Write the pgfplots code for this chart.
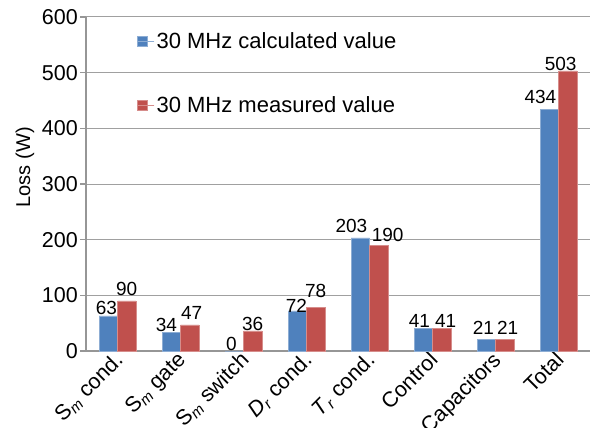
\documentclass[border=0pt]{standalone}
\usepackage{pgfplots}
\pgfplotsset{compat=1.18}
\usepackage{fontspec}
\setmainfont{Liberation Sans}
\definecolor{cblue}{RGB}{79,129,189}
\definecolor{cred}{RGB}{192,80,77}
\definecolor{axgray}{RGB}{150,150,150}
\definecolor{grgray}{RGB}{160,160,160}
\pgfplotstableread{
x y dx dy
0 63 -2 0
1 34 -5 0
2 0 -3 0
3 72 -1 -2
4 203 -9 5
5 41 -4 0
6 21 -3 4
7 434 -9 5
}\calc
\pgfplotstableread{
x y dx dy
0 90 0 4
1 47 2 5
2 36 0 0
3 78 0 9
4 190 9 3
5 41 4 0
6 21 3 4
7 503 -7 0
}\meas
\begin{document}
\begin{tikzpicture}
\begin{axis}[
  name=ax,
  scale only axis,
  width=504pt, height=334pt,
  xmin=-0.5, xmax=7.5,
  ymin=0, ymax=600,
  ytick={0,100,...,600},
  axis lines*=left,
  axis line style={axgray, line width=1.3pt},
  ymajorgrids,
  grid style={grgray, line width=1pt},
  y tick style={axgray, line width=1.3pt},
  tick align=outside,
  major tick length=6pt,
  xtick={0,...,7},
  xticklabels={S\textsubscript{\textit{m}} cond., S\textsubscript{\textit{m}} gate, S\textsubscript{\textit{m}} switch, \textit{D}\textsubscript{\textit{r}} cond., \textit{T}\textsubscript{\textit{r}} cond., Control, Capacitors, Total},
  x tick style={draw=none},
  extra x ticks={-0.5,0.5,...,7.5},
  extra x tick labels={},
  extra x tick style={grid=none, tick style={draw=axgray, line width=1.3pt}},
  x tick label style={rotate=45, anchor=north east, inner sep=0pt, xshift=1.6pt, yshift=8pt, font=\fontsize{21.5}{24}\selectfont},
  y tick label style={font=\fontsize{21.5}{24}\selectfont, inner sep=2pt},
  /pgf/number format/assume math mode=true,
  ylabel={Loss (W)},
  ylabel style={font=\fontsize{20}{24}\selectfont, at={(axis description cs:-0.121,0.55)}, anchor=center, inner sep=0pt},
  ybar=0pt,
  bar width=0.29,
  legend style={draw=none, fill=none, at={(0.101,0.96)}, anchor=north west, inner sep=0pt,
    font=\fontsize{22}{26}\selectfont, row sep=43pt, cells={anchor=west}},
  legend image code/.code={\fill[#1] (0pt,-5pt) rectangle (10pt,5pt); \path (0pt,0pt) -- (17pt,0pt);},
]
\addplot[fill=cblue, draw=cblue!65!white, line width=0.5pt,
  visualization depends on={\thisrow{dx} \as \ldx},
  visualization depends on={\thisrow{dy} \as \ldy},
  nodes near coords,
  nodes near coords style={font=\fontsize{19}{22}\selectfont, text=black, inner sep=0.5pt, xshift=\ldx pt, yshift=\ldy pt}]
  table[x=x, y=y] {\calc};
\addplot[fill=cred, draw=cred!65!white, line width=0.5pt,
  visualization depends on={\thisrow{dx} \as \ldx},
  visualization depends on={\thisrow{dy} \as \ldy},
  nodes near coords,
  nodes near coords style={font=\fontsize{19}{22}\selectfont, text=black, inner sep=0.5pt, xshift=\ldx pt, yshift=\ldy pt}]
  table[x=x, y=y] {\meas};
\legend{30 MHz calculated value, 30 MHz measured value}
\end{axis}
\pgfresetboundingbox
\path[use as bounding box] ([xshift=-86pt,yshift=-76pt]ax.south west) rectangle ([xshift=1pt,yshift=17pt]ax.north east);
\end{tikzpicture}
\end{document}
